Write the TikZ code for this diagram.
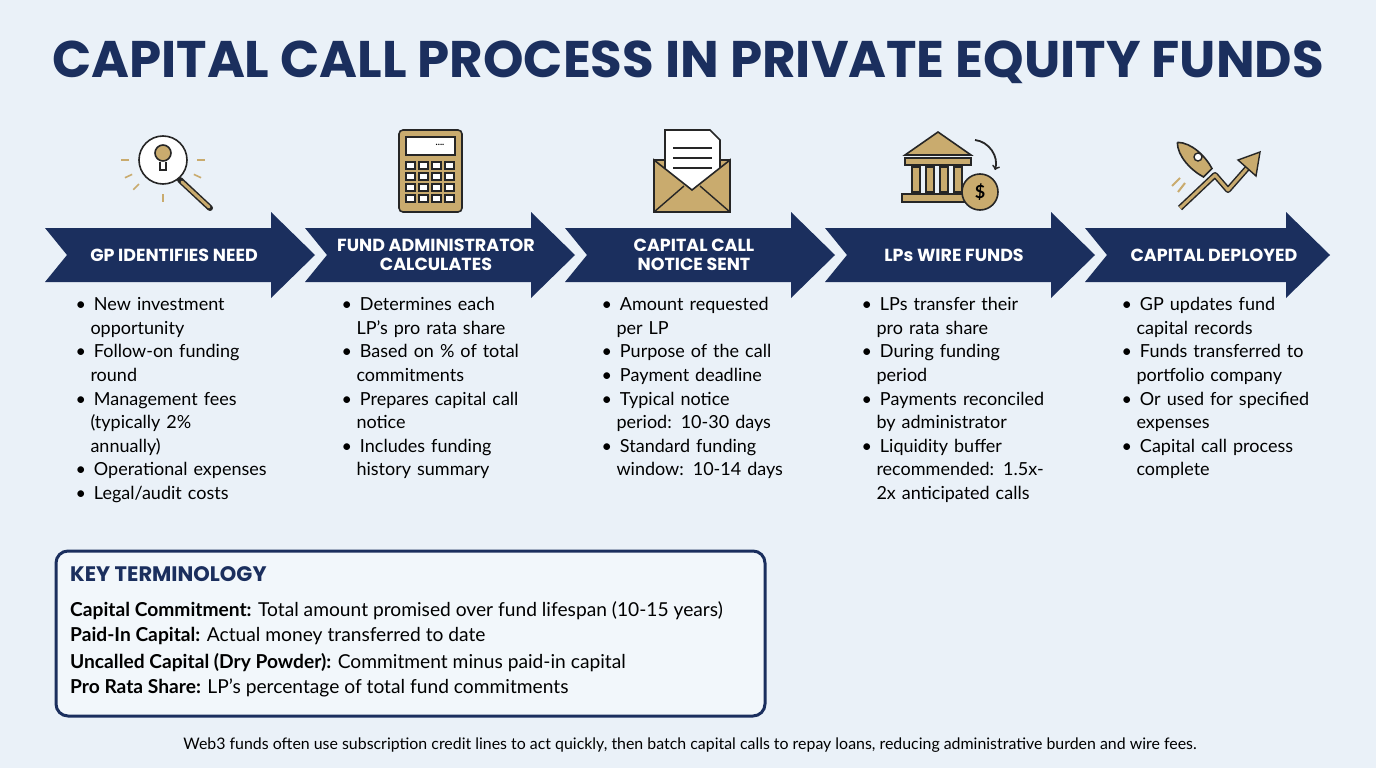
\documentclass[tikz,border=0pt]{standalone}
\usepackage{fontspec}
\setmainfont{Lato}
\newfontfamily\headfont{Poppins}
\usetikzlibrary{positioning}
\definecolor{navy}{HTML}{1B2F5E}
\definecolor{tan}{HTML}{C9AB6E}
\definecolor{bgblue}{HTML}{EAF1F8}
\newcommand{\bul}{\textbullet\hspace{8pt}}
\newcommand{\ind}{\hspace*{15pt}}

\begin{document}
\begin{tikzpicture}[x=1pt, y=-1pt,
    chev/.style={fill=navy},
    head/.style={text=white, font=\headfont\fontsize{17.5}{19}\selectfont\bfseries, align=center},
    bullets/.style={anchor=north west, text width=240pt, font=\fontsize{18}{23.6}\selectfont, align=left, text=black},
    icon/.style={draw=black!85, line width=1.6pt, fill=tan},
    term/.style={anchor=north west, font=\fontsize{19.2}{22}\selectfont, inner sep=0pt}]

    % background
    \fill[bgblue] (0,0) rectangle (1376,768);
    \useasboundingbox (0,0) rectangle (1376,768);

    % title
    \node[font=\headfont\fontsize{51.5}{54}\selectfont\bfseries, text=navy] (title) at (688,62) {CAPITAL CALL PROCESS IN PRIVATE EQUITY FUNDS};

    % chevrons
    \foreach \x/\w in {45/270,305/270,565/270,825/270,1085/245} {
        \fill[chev] (\x,228) -- (\x+\w-44,228) -- (\x+\w-44,212) -- (\x+\w,255) -- (\x+\w-44,298)
            -- (\x+\w-44,282) -- (\x,282) -- (\x+22,255) -- cycle;
    }
    \node[head] (step1) at (174,255) {GP IDENTIFIES NEED};
    \node[head] (step2) at (436,255) {FUND ADMINISTRATOR\\CALCULATES};
    \node[head] (step3) at (694,255) {CAPITAL CALL\\NOTICE SENT};
    \node[head] (step4) at (954,255) {LPs WIRE FUNDS};
    \node[head] (step5) at (1214,255) {CAPITAL DEPLOYED};

    % bullet lists
    \node[bullets] (list1) at (72,294) {\bul New investment\\\ind opportunity\\\bul Follow-on funding\\\ind round\\\bul Management fees\\\ind (typically 2\%\\\ind annually)\\\bul Operational expenses\\\bul Legal/audit costs};
    \node[bullets] (list2) at (338,294) {\bul Determines each\\\ind LP’s pro rata share\\\bul Based on \% of total\\\ind commitments\\\bul Prepares capital call\\\ind notice\\\bul Includes funding\\\ind history summary};
    \node[bullets] (list3) at (598,294) {\bul Amount requested\\\ind per LP\\\bul Purpose of the call\\\bul Payment deadline\\\bul Typical notice\\\ind period: 10-30 days\\\bul Standard funding\\\ind window: 10-14 days};
    \node[bullets] (list4) at (858,294) {\bul LPs transfer their\\\ind pro rata share\\\bul During funding\\\ind period\\\bul Payments reconciled\\\ind by administrator\\\bul Liquidity buffer\\\ind recommended: 1.5x-\\\ind 2x anticipated calls};
    \node[bullets] (list5) at (1118,294) {\bul GP updates fund\\\ind capital records\\\bul Funds transferred to\\\ind portfolio company\\\bul Or used for specified\\\ind expenses\\\bul Capital call process\\\ind complete};

    % icon 1: magnifier with bulb
    \foreach \a in {90,135,45,180,0,155,25}
        \draw[tan, line width=1.6pt] (163,160) ++(\a:-34pt) -- ++(\a:-8pt);
    \draw[black!85, line width=6pt, line cap=round] (180,180) -- (210,208);
    \draw[tan, line width=3pt, line cap=round] (182,182) -- (209,207);
    \draw[icon, fill=white] (163,160) circle (24);
    \draw[black!85, line width=1.6pt, fill=tan] (163,153) circle (8);
    \draw[black!85, line width=1.6pt] (160,162) -- (160,170) -- (166,170) -- (166,162);

    % icon 2: calculator
    \draw[icon, rounded corners=4pt] (399,130) rectangle (462,212);
    \draw[black!85, line width=1.6pt, fill=white] (406,137) rectangle (455,155);
    \node[font=\bfseries\small] (dots) at (440,145) {....};
    \foreach \r in {0,1,2,3}
        \foreach \c in {0,1,2,3}
            \draw[black!85, line width=1.2pt, fill=white] (406+\c*13,162+\r*11) rectangle ++(9,7);

    % icon 3: envelope with letter
    \draw[icon] (654,160) -- (730,160) -- (730,212) -- (654,212) -- cycle;
    \draw[black!85, line width=1.6pt, fill=white] (665,130) -- (710,130) -- (720,140) -- (720,190) -- (665,190) -- cycle;
    \foreach \yy in {148,158,168} \draw[black!85, line width=1.4pt] (673,\yy) -- (712,\yy);
    \draw[icon] (654,160) -- (692,190) -- (730,160) -- (730,212) -- (654,212) -- cycle;
    \draw[black!85, line width=1.4pt] (654,212) -- (684,186) (730,212) -- (700,186);

    % icon 4: bank with coin
    \draw[icon] (905,155) -- (938,132) -- (971,155) -- cycle;
    \draw[icon] (905,158) rectangle (971,165);
    \foreach \cx in {912,926,940,954} \draw[icon] (\cx,167) rectangle ++(8,25);
    \draw[icon] (902,194) rectangle (974,202);
    \draw[icon] (980,192) circle (18);
    \node[font=\bfseries\fontsize{18}{18}\selectfont] (dollar) at (980,192) {\$};
    \draw[black!85, line width=1.8pt, ->] (975,140) to[bend left=50] (995,170);

    % icon 5: rocket and growth arrow
    \draw[icon, rotate around={45:(1195,160)}] (1195,135) .. controls (1205,145) and (1205,165) .. (1201,178) -- (1189,178) .. controls (1185,165) and (1185,145) .. (1195,135);
    \draw[black!85, line width=1.4pt, fill=white] (1198,157) circle (4);
    \draw[tan, line width=2pt] (1180,178) -- (1172,186) (1185,183) -- (1178,192);
    \draw[black!85, line width=6pt, line join=round] (1180,208) -- (1215,175) -- (1228,190) -- (1250,165);
    \draw[tan, line width=3pt, line join=round] (1180,208) -- (1215,175) -- (1228,190) -- (1250,165);
    \draw[black!85, line width=1.4pt, fill=tan] (1260,152) -- (1256,176) -- (1238,160) -- cycle;

    % key terminology box
    \draw[navy, line width=3pt, fill=bgblue!60!white, rounded corners=12pt] (56,551) rectangle (765,716);
    \node[term, font=\headfont\fontsize{21}{22}\selectfont\bfseries, text=navy] (keyhead) at (70,566) {KEY TERMINOLOGY};
    \node[term] (term1) at (70,601) {\textbf{Capital Commitment:} Total amount promised over fund lifespan (10-15 years)};
    \node[term] (term2) at (70,627) {\textbf{Paid-In Capital:} Actual money transferred to date};
    \node[term] (term3) at (70,653) {\textbf{Uncalled Capital (Dry Powder):} Commitment minus paid-in capital};
    \node[term] (term4) at (70,679) {\textbf{Pro Rata Share:} LP’s percentage of total fund commitments};

    % footer
    \node[font=\fontsize{15.9}{17}\selectfont] (footer) at (690,745) {Web3 funds often use subscription credit lines to act quickly, then batch capital calls to repay loans, reducing administrative burden and wire fees.};
\end{tikzpicture}
\end{document}
